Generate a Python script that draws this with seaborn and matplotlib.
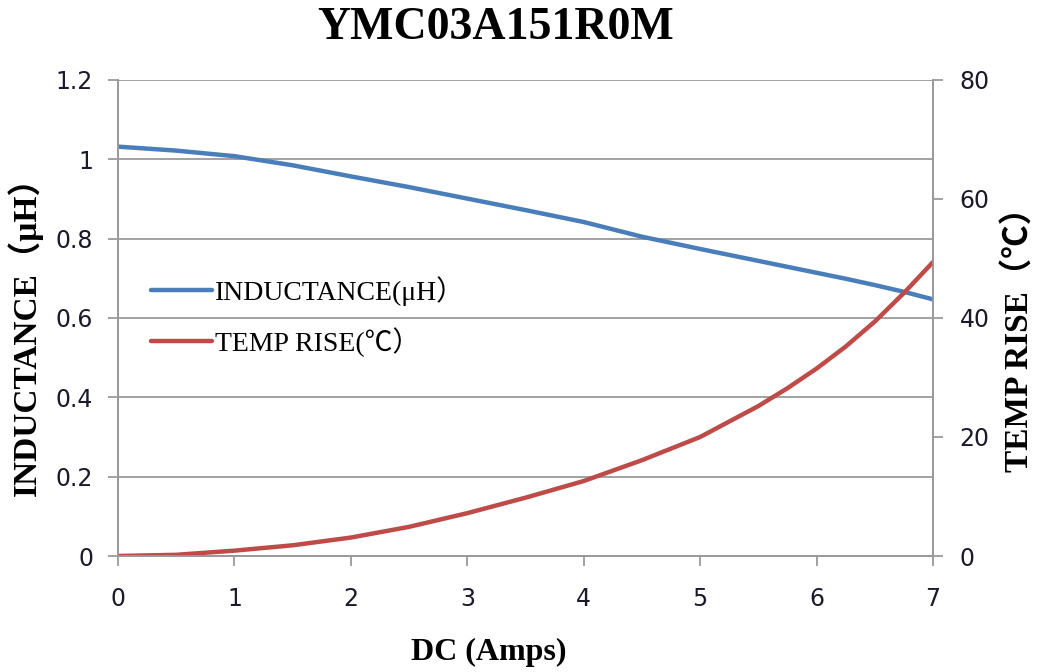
import matplotlib
matplotlib.use('Agg')
import matplotlib.pyplot as plt
import seaborn as sns
import pandas as pd
from matplotlib.lines import Line2D

# values
current = [0, 0.5, 1, 1.5, 2, 2.5, 3, 3.5, 4, 4.5, 5, 5.5, 5.75, 6, 6.25, 6.5, 6.75, 7]
inductance = [1.032, 1.022, 1.008, 0.985, 0.957, 0.930, 0.901, 0.872,
              0.842, 0.805, 0.774, 0.744, 0.729, 0.714, 0.699, 0.683, 0.666, 0.647]
temp_rise = [0, 0.2, 0.9, 1.8, 3.1, 4.9, 7.2, 9.8,
             12.6, 16.1, 20.0, 25.2, 28.2, 31.5, 35.2, 39.4, 44.2, 49.4]

x_ticks = [0, 1, 2, 3, 4, 5, 6, 7]
left_ticks = [0, 0.2, 0.4, 0.6, 0.8, 1.0, 1.2]
left_labels = ['0', '0.2', '0.4', '0.6', '0.8', '1', '1.2']
right_ticks = [0, 20, 40, 60, 80]

title = 'YMC03A151R0M'
x_label = 'DC (Amps)'
y_label = 'INDUCTANCE\uff08\u03bcH\uff09'
y2_label = 'TEMP RISE\uff08\u2103\uff09'
legend_labels = ['INDUCTANCE(\u03bcH\uff09', 'TEMP RISE(\u2103\uff09']

blue = '#4a7ebb'
red = '#be4b48'
grey = '#9a9a9a'

df = pd.DataFrame({'DC': current, 'L': inductance, 'T': temp_rise})

sns.set_theme(style='white')
plt.rcParams['text.color'] = 'black'
serif = ['Liberation Serif', 'Noto Sans CJK SC', 'DejaVu Sans']

fig = plt.figure(figsize=(10.41, 6.72), dpi=100)
ax = fig.add_axes([118 / 1041, 1 - 556 / 672, 815 / 1041, 476 / 672])
ax2 = ax.twinx()

sns.lineplot(data=df, x='DC', y='L', ax=ax, color=blue, linewidth=3.2)
sns.lineplot(data=df, x='DC', y='T', ax=ax2, color=red, linewidth=3.2)

ax.set_xlim(0, 7)
ax.set_ylim(0, 1.2)
ax2.set_ylim(0, 80)
ax.set_xticks(x_ticks)
ax.set_yticks(left_ticks)
ax.set_yticklabels(left_labels)
ax2.set_yticks(right_ticks)
ax.set_xlabel('')
ax.set_ylabel('')
ax2.set_ylabel('')

ax.grid(axis='y', color=grey, linewidth=1.3)
ax.set_axisbelow(True)
ax.spines['top'].set_visible(False)
ax2.spines['top'].set_visible(False)
for a in (ax, ax2):
    for sp in a.spines.values():
        sp.set_color(grey)
        sp.set_linewidth(1.3)

tick_col = '#1a1a2a'
ax.tick_params(axis='x', direction='out', length=7, width=1.3, color=grey,
               bottom=True, labelsize=17, pad=15, labelcolor=tick_col)
ax.tick_params(axis='y', direction='out', length=7, width=1.3, color=grey,
               left=True, labelsize=17, pad=11, labelcolor=tick_col)
ax2.tick_params(axis='y', direction='out', length=7, width=1.3, color=grey,
                right=True, labelsize=17, pad=12, labelcolor=tick_col)
for lab in ax.get_xticklabels() + ax.get_yticklabels() + ax2.get_yticklabels():
    lab.set_family(['DejaVu Sans'])

fig.text(496 / 1041, 1 - 28 / 672, title, ha='center', va='center',
         family=serif, fontsize=33, fontweight='bold', color='black')
fig.text(489 / 1041, 1 - 652 / 672, x_label, ha='center', va='center',
         family=serif, fontsize=23, fontweight='bold', color='black')
fig.text(25 / 1041, 1 - 328 / 672, y_label, ha='center', va='center',
         rotation=90, family=serif, fontsize=24, fontweight='bold', color='black')
fig.text(1019 / 1041, 1 - 331 / 672, y2_label, ha='center', va='center',
         rotation=90, family=serif, fontsize=24, fontweight='bold', color='black')

handles = [Line2D([0], [0], color=blue, lw=3.2),
           Line2D([0], [0], color=red, lw=3.2)]
ax.legend(handles, legend_labels, loc='upper left',
          bbox_to_anchor=(0.01, 0.64), frameon=False,
          prop={'family': serif, 'size': 20},
          handlelength=2.2, handletextpad=0.1, labelspacing=0.75)

fig.savefig('out.png', dpi=100)
